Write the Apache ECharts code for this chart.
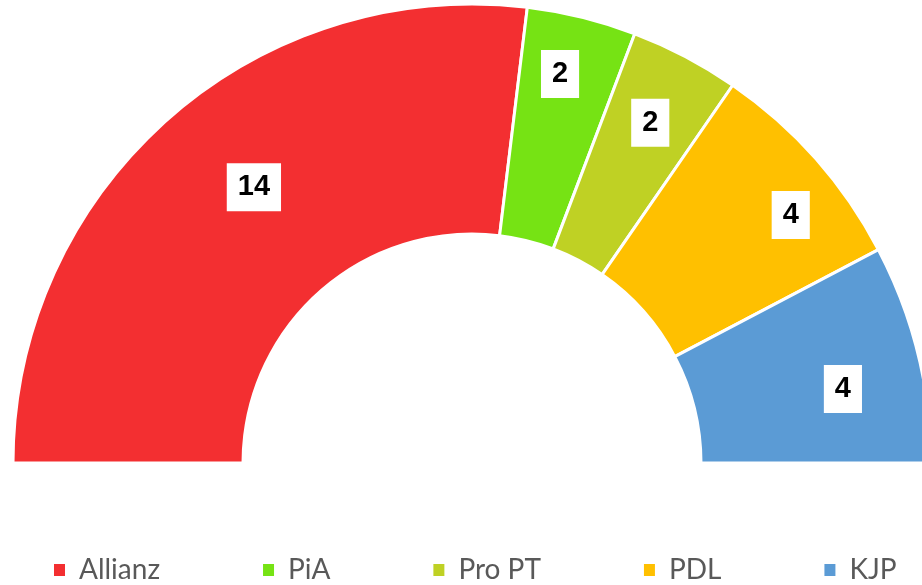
<!DOCTYPE html>
<html>
<head>
<meta charset="utf-8">
<script src="https://cdn.jsdelivr.net/npm/echarts@6/dist/echarts.min.js"></script>
<style>
  html, body { margin: 0; padding: 0; background: #fff; }
  #main { width: 922px; height: 585px; }
</style>
</head>
<body>
<div id="main"></div>
<script>
const parties = ['Allianz', 'PiA', 'Pro PT', 'PDL', 'KJP'];
const seats = [14, 2, 2, 4, 4];
const colors = ['#F32F31', '#76E314', '#BFD124', '#FFC000', '#5B9BD5'];

// nudge the labels to where the original put them (relative to the slice middle)
const labelShift = [[12, -16], [5, -52], [17, -33], [59, -18], [34, 9]];

const chart = echarts.init(document.getElementById('main'), null, { renderer: 'canvas' });

const option = {
  animation: false,
  legend: {
    data: parties,
    left: 52,
    top: 555,
    width: 870,
    padding: 0,
    itemWidth: 13,
    itemHeight: 14,
    itemGap: 101,
    icon: 'rect',
    textStyle: {
      fontFamily: 'Lato, "Liberation Sans", sans-serif',
      fontSize: 28,
      color: '#595959',
      lineHeight: 30,
      padding: [0, 0, 0, 8]
    }
  },
  series: [
    {
      type: 'pie',
      center: [472, 463],
      radius: [229, 459],
      startAngle: 180,
      endAngle: 360,
      clockwise: true,
      avoidLabelOverlap: false,
      itemStyle: {
        borderColor: '#fff',
        borderWidth: 3
      },
      label: {
        show: true,
        position: 'inside',
        formatter: '{c}',
        color: '#000',
        fontFamily: '"Liberation Sans", Arial, sans-serif',
        fontWeight: 'bold',
        fontSize: 29,
        lineHeight: 29,
        backgroundColor: '#fff',
        padding: [10, 11, 9, 11]
      },
      labelLine: { show: false },
      labelLayout: function (params) {
        const s = labelShift[params.dataIndex];
        return { dx: s[0], dy: s[1] };
      },
      emphasis: { disabled: true },
      data: parties.map((name, i) => ({
        name: name,
        value: seats[i],
        itemStyle: { color: colors[i] }
      }))
    }
  ]
};

chart.setOption(option);
</script>
</body>
</html>
